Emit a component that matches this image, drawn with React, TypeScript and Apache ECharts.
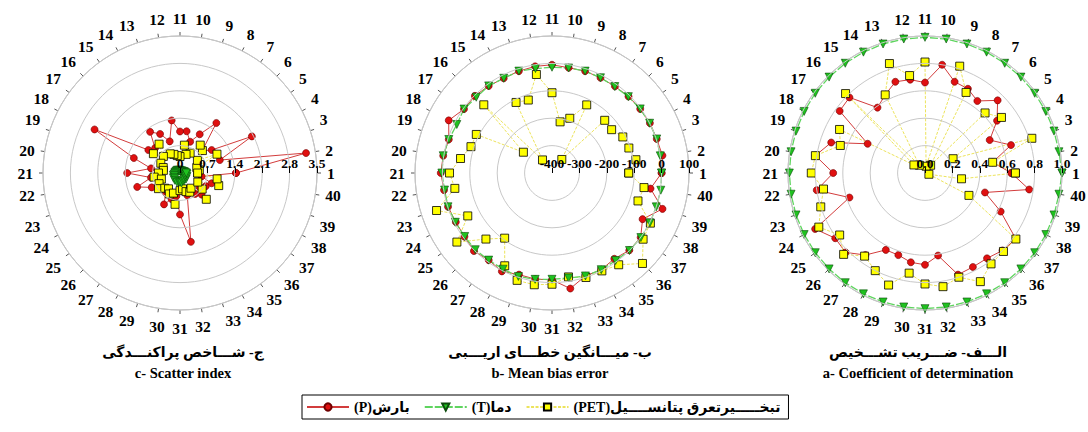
import React, { useEffect, useRef } from 'react';
import * as echarts from 'echarts';

const categories = ['1','2','3','4','5','6','7','8','9','10','11','12','13','14','15','16','17','18','19','20','21','22','23','24','25','26','27','28','29','30','31','32','33','34','35','36','37','38','39','40'];

const seriesNames = ['بارش(P)', 'دما(T)', 'تبخـــــیرتعرق پتانســــیل(PET)'];

// c- Scatter index
const siTicks = [0, 0.7, 1.4, 2.1, 2.8, 3.5];
const siP = [1.43, 3.26, 1.07, 2.06, 1.00, 0.80, 1.58, 1.11, 0.84, 1.08, 1.06, 1.36, 0.85, 1.12, 1.30, 0.90, 1.00, 2.45, 1.24, 0.75, 1.35, 0.75, 1.15, 0.81, 0.60, 0.55, 0.62, 0.90, 0.70, 0.60, 1.06, 1.78, 0.60, 0.55, 0.66, 0.78, 0.62, 0.74, 0.85, 0.56];
const siT = [0.16, 0.13, 0.11, 0.09, 0.07, 0.05, 0.07, 0.04, 0.05, 0.05, 0.07, 0.06, 0.05, 0.08, 0.07, 0.10, 0.08, 0.11, 0.09, 0.13, 0.12, 0.15, 0.18, 0.16, 0.21, 0.19, 0.23, 0.21, 0.25, 0.22, 0.24, 0.26, 0.21, 0.23, 0.19, 0.22, 0.17, 0.20, 0.15, 0.18];
const siPET = [0.45, 0.50, 0.45, 1.06, 0.55, 0.81, 0.88, 0.57, 0.50, 0.72, 0.42, 0.45, 0.50, 0.55, 0.91, 0.60, 0.84, 0.55, 0.45, 0.43, 0.55, 0.67, 0.50, 0.60, 0.68, 0.55, 0.50, 0.60, 0.54, 0.81, 0.45, 0.41, 0.50, 0.55, 0.48, 0.95, 0.70, 0.51, 1.04, 0.96];

// b- Mean bias error
const mbeTicks = [-400, -300, -200, -100, 0, 100];
const mbeP = [0, 8, 2, 1, -2, -5, -9, -10, -9, -11, -5, -6, -9, -12, -7, -2, -3, 23, -4, 2, 6, -1, -1, -6, -5, 3, -7, 3, -10, -8, -10, 27, -5, -4, -13, -1, 0, -29, 24, -36];
const mbeT = [0, 0, 2, 0, -2, -6, -10, -10, -9, -12, -14, -14, -9, -12, -7, -9, -3, -10, -4, 2, 2, -3, -1, -4, -6, -4, -7, -6, -3, -7, -12, -12, -5, -4, -5, 0, 1, 1, 0, 2];
const mbePET = [-120, -90, -105, -110, -131, -128, -339, -121, -190, -211, -107, -36, -120, -111, -341, -48, -271, -90, -89, -62, -26, -41, 43, -55, 29, -59, -106, -20, 12, 13, 6, -16, 1, 1, 14, 67, 11, 3, -70, -60];

// a- Coefficient of determination
const r2Ticks = [0, 0.2, 0.4, 0.6, 0.8, 1.0];
const r2P = [0.63, 0.50, 0.66, 0.53, 0.65, 0.75, 0.65, 0.69, 0.70, 0.80, 0.66, 0.69, 0.70, 0.64, 0.59, 0.78, 0.77, 0.47, 0.72, 0.81, 0.67, 0.80, 0.58, 0.90, 0.81, 0.82, 0.74, 0.63, 0.63, 0.66, 0.67, 0.61, 0.78, 0.77, 0.77, 0.80, 0.82, 0.62, 0.46, 0.77];
const r2T = [1.0, 0.99, 0.99, 0.99, 0.99, 0.99, 0.99, 0.99, 0.99, 0.99, 0.99, 0.99, 0.99, 0.99, 0.99, 0.99, 0.99, 0.99, 0.99, 0.99, 0.99, 0.99, 0.99, 0.99, 0.99, 0.99, 0.99, 0.99, 0.99, 0.99, 0.99, 0.99, 0.99, 0.99, 0.99, 0.99, 0.99, 0.99, 0.99, 0.99];
const r2PET = [0.66, 0.50, 0.82, 0.23, 0.69, 0.62, 0.07, 0.66, 0.82, 0.05, 0.81, 0.72, 0.84, 0.64, 0.07, 0.82, 0.10, 0.70, 0.65, 0.81, 0.83, 0.75, 0.80, 0.87, 0.77, 0.84, 0.75, 0.80, 0.86, 0.74, 0.81, 0.84, 0.80, 0.89, 0.82, 0.81, 0.82, 0.36, 0.03, 0.27];

const titlesFa = ['ج- شـــاخص پراکنـــدگی', 'ب- میـــانگین خطـــای اریـــبی', 'الـــف- ضـــریب تشـــخیص'];
const titlesEn = ['c- Scatter index', 'b- Mean bias error', 'a- Coefficient of determination'];

const FONT = '"Liberation Serif", "DejaVu Sans", serif';

const step = 360 / categories.length;
const toPolar = (vals: number[]) => {
  const pts = vals.map((v, i) => [v, i * step]);
  pts.push([vals[0], 360]);
  return pts;
};

const panels = [
  { center: [180, 173], ticks: siTicks, P: siP, T: siT, PET: siPET, fmt: (v: number) => String(v), tx: 183 },
  { center: [552, 173], ticks: mbeTicks, P: mbeP, T: mbeT, PET: mbePET, fmt: (v: number) => String(v), tx: 550 },
  { center: [925, 173], ticks: r2Ticks, P: r2P, T: r2T, PET: r2PET, fmt: (v: number) => v.toFixed(1), tx: 918 },
];

export default function App() {
  const ref = useRef<HTMLDivElement>(null);
  useEffect(() => {
    if (!ref.current) return;
    const chart = echarts.init(ref.current, undefined, { renderer: 'svg' });
    const series: any[] = [];
    panels.forEach((p, i) => {
      series.push({
        name: seriesNames[0], type: 'line', coordinateSystem: 'polar', polarIndex: i,
        data: toPolar(p.P), symbol: 'circle', symbolSize: 7,
        itemStyle: { color: '#e01010', borderColor: '#700000', borderWidth: 0.6 },
        lineStyle: { color: '#d23c3c', width: 1 },
      });
      series.push({
        name: seriesNames[2], type: 'line', coordinateSystem: 'polar', polarIndex: i,
        data: toPolar(p.PET), symbol: 'rect', symbolSize: 8,
        itemStyle: { color: '#ffff00', borderColor: '#000000', borderWidth: 0.8 },
        lineStyle: { color: '#ece35c', width: 1, type: [3, 1.5] },
      });
      series.push({
        name: seriesNames[1], type: 'line', coordinateSystem: 'polar', polarIndex: i,
        data: toPolar(p.T), symbol: 'triangle', symbolRotate: 180, symbolSize: 8,
        itemStyle: { color: '#1fc21f', borderColor: '#0a4a0a', borderWidth: 0.6 },
        lineStyle: { color: '#5fd45f', width: 1.3, type: [8, 2] },
      });
    });

    const graphic: any[] = [];
    panels.forEach((p, i) => {
      graphic.push({
        type: 'text', x: p.tx, y: 352,
        style: { text: titlesFa[i], fontSize: 14, fontWeight: 'bold', fontFamily: FONT, fill: '#000', align: 'center', verticalAlign: 'middle' },
      });
      graphic.push({
        type: 'text', x: p.tx, y: 373,
        style: { text: titlesEn[i], fontSize: 14.5, fontWeight: 'bold', fontFamily: FONT, fill: '#000', align: 'center', verticalAlign: 'middle' },
      });
    });

    chart.setOption({
      animation: false,
      backgroundColor: '#ffffff',
      polar: panels.map((p) => ({ center: p.center, radius: 137 })),
      angleAxis: panels.map((p, i) => ({
        polarIndex: i, type: 'value', min: 0, max: 360, interval: step,
        startAngle: 0, clockwise: false,
        axisLine: { show: true, lineStyle: { color: '#b4b4b4', width: 1 } },
        axisTick: { show: true, length: 4, lineStyle: { color: '#555' } },
        axisLabel: {
          margin: 10, fontSize: 15.5, fontWeight: 'bold', fontFamily: FONT, color: '#000',
          formatter: (v: number) => {
            const k = Math.round(v / step);
            return k < categories.length ? categories[k] : '';
          },
        },
        splitLine: { show: false },
      })),
      radiusAxis: panels.map((p, i) => ({
        polarIndex: i, type: 'value',
        min: p.ticks[0], max: p.ticks[p.ticks.length - 1], interval: p.ticks[1] - p.ticks[0],
        axisLine: { show: false },
        axisTick: { show: true, inside: true, length: 5, lineStyle: { color: '#000' } },
        axisLabel: { margin: 3, fontSize: 13.5, fontWeight: 'bold', fontFamily: FONT, color: '#000', formatter: p.fmt },
        splitLine: { show: true, lineStyle: { color: '#c8c8c8', width: 1 } },
        z: 10,
      })),
      legend: {
        data: seriesNames,
        left: 302, top: 395,
        orient: 'horizontal',
        borderColor: '#000', borderWidth: 1, padding: [5, 8, 5, 4],
        itemGap: 14, itemWidth: 42, itemHeight: 9,
        textStyle: { fontSize: 14, fontWeight: 'bold', fontFamily: FONT, color: '#000' },
        formatter: (name: string) => '\u202B' + name + '\u202C',
      },
      graphic,
      series,
    });
    return () => chart.dispose();
  }, []);
  return <div ref={ref} style={{ position: 'fixed', left: 0, top: 0, width: 1088, height: 432, background: '#fff' }} />;
}
